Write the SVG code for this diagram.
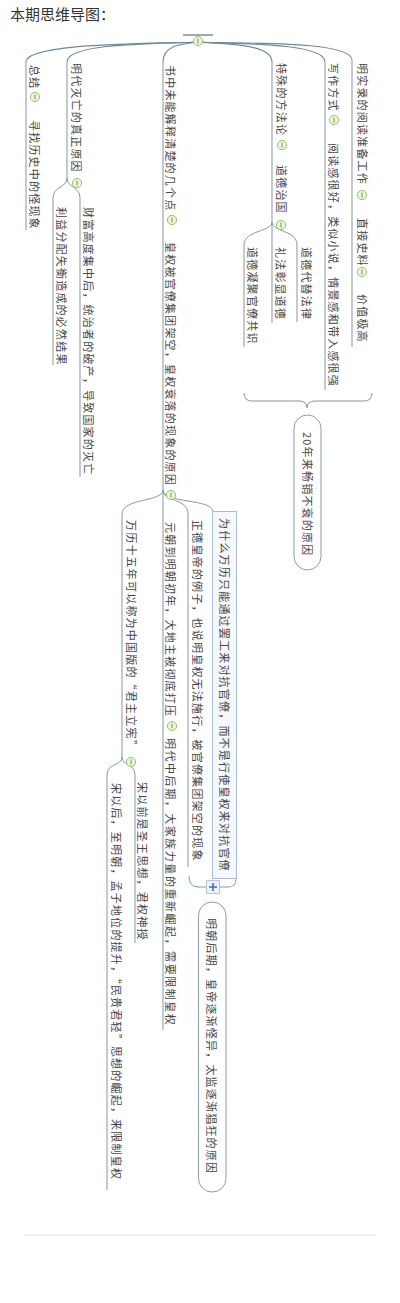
<svg xmlns="http://www.w3.org/2000/svg" width="400" height="1303" viewBox="0 0 400 1303">
<style>
.t{font-family:"Noto Sans CJK SC","Noto Sans",sans-serif;font-size:11px;fill:#474747;letter-spacing:1.2px;dominant-baseline:central}
.q{font-feature-settings:"fwid"}
.ln{stroke:#8797a4;stroke-width:1;fill:none}
.cv{stroke:#6f8a9c;stroke-width:1.1;fill:none}
.pill{fill:#ffffff;stroke:#8c9aa6;stroke-width:1}
.ttl{font-family:"Noto Sans CJK SC","Noto Sans",sans-serif;font-size:15px;fill:#333}
</style>
<defs>
<g id="m"><circle r="4.6" fill="#edf6dc" stroke="#98c36a" stroke-width="1"/><line x1="0" y1="-2.6" x2="0" y2="2.6" stroke="#6e9a48" stroke-width="1"/></g>
</defs>
<rect width="400" height="1303" fill="#ffffff"/>
<text class="ttl" x="10" y="20">本期思维导图：</text>

<g id="connectors">
<path class="cv" d="M198,42 C160,44 26,42 26,62"/>
<path class="cv" d="M198,42 C165,44 67,42 67,62"/>
<path class="cv" d="M198,42 C185,44 163,44 163,62"/>
<path class="cv" d="M198,42 C215,44 272,42 272,62"/>
<path class="cv" d="M198,42 C230,44 325,42 325,62"/>
<path class="cv" d="M198,42 C235,44 352,40 352,60"/>
<path class="ln" d="M67,178 C67,188 53,186 53,198"/>
<path class="ln" d="M67,178 C67,188 80,186 80,198"/>
<path class="ln" d="M163,490 C163,502 122,498 122,514"/>
<path class="ln" d="M163,490 C163,502 188,498 188,514"/>
<path class="ln" d="M163,490 C163,504 213,498 213,512"/>
<path class="ln" d="M122,757 C122,766 107,763 107,775"/>
<path class="ln" d="M122,757 C122,766 135,763 135,775"/>
<path class="ln" d="M272,222 C272,232 244,230 244,245"/>
<path class="ln" d="M272,222 C272,232 297,230 297,245"/>
</g>

<g id="root">
<line x1="183" y1="35" x2="213" y2="35" stroke="#4a5560" stroke-width="1"/>
<use href="#m" x="198" y="41"/>
</g>

<g id="n1">
<line class="ln" x1="352" y1="60" x2="352" y2="347"/>
<text class="t" transform="translate(363,63) rotate(90)">明实录的阅读准备工作</text>
<use href="#m" x="362" y="195"/>
</g>
<g id="n1a">
<text class="t" transform="translate(363,218) rotate(90)">直接史料</text>
<use href="#m" x="362" y="272"/>
</g>
<g id="n1b">
<text class="t" transform="translate(363,294) rotate(90)">价值极高</text>
</g>

<g id="n2">
<line class="ln" x1="325" y1="62" x2="325" y2="390"/>
<text class="t" transform="translate(334,63) rotate(90)">写作方式</text>
<use href="#m" x="334" y="120"/>
</g>
<g id="n2a">
<text class="t" transform="translate(334,143) rotate(90)">阅读感很好，类似小说，情景感和带入感很强</text>
</g>

<g id="n3">
<line class="ln" x1="272" y1="62" x2="272" y2="323"/>
<text class="t" transform="translate(282,63) rotate(90)">特殊的方法论</text>
<use href="#m" x="282" y="145"/>
</g>
<g id="n3a">
<text class="t" transform="translate(282,165) rotate(90)">道德治国</text>
<use href="#m" x="281" y="225"/>
</g>
<g id="n3a1">
<line class="ln" x1="297" y1="245" x2="297" y2="322"/>
<text class="t" transform="translate(307,247) rotate(90)">道德代替法律</text>
</g>
<g id="n3a2">
<text class="t" transform="translate(281,247) rotate(90)">礼法彰显道德</text>
</g>
<g id="n3a3">
<line class="ln" x1="244" y1="245" x2="244" y2="347"/>
<text class="t" transform="translate(253,247) rotate(90)">道德凝聚官僚共识</text>
</g>
<g id="s1">
<path class="ln" d="M244,393 Q244,401 252,401 L299,401 Q307,401 307,408 Q307,401 315,401 L364,401 Q372,401 372,393"/>
<rect class="pill" x="294" y="415" width="27" height="155" rx="13.5"/>
<text class="t" transform="translate(307.5,432) rotate(90)">20年来畅销不衰的原因</text>
</g>

<g id="n4">
<line class="ln" x1="163" y1="62" x2="163" y2="1030"/>
<text class="t" transform="translate(171,65) rotate(90)">书中未能解释清楚的几个点</text>
<use href="#m" x="172" y="220"/>
</g>
<g id="n4a">
<text class="t" transform="translate(171,242) rotate(90)">皇权被官僚集团架空，皇权衰落的现象的原因</text>
<use href="#m" x="171" y="495"/>
</g>
<g id="n4a1">
<rect x="212.5" y="511.5" width="24" height="367" fill="#f5f8fc" stroke="#a9bed6" stroke-width="1"/>
<text class="t" transform="translate(225,518) rotate(90)">为什么万历只能通过罢工来对抗官僚，而不是行使皇权来对抗官僚</text>
</g>
<g id="n4a2">
<line class="ln" x1="188" y1="514" x2="188" y2="867"/>
<text class="t" transform="translate(198,520) rotate(90)">正德皇帝的例子，也说明皇权无法施行，被官僚集团架空的现象</text>
</g>
<g id="n4a3">
<text class="t" transform="translate(171,522) rotate(90)">元朝到明朝初年，大地主被彻底打压</text>
<use href="#m" x="172" y="726"/>
</g>
<g id="n4a3a">
<text class="t" transform="translate(171,738) rotate(90)" textLength="288" lengthAdjust="spacing">明代中后期，大家族力量的重新崛起，需要限制皇权</text>
</g>
<g id="n4a4">
<line class="ln" x1="122" y1="514" x2="122" y2="757"/>
<text class="t" transform="translate(132,520) rotate(90)">万历十五年可以称为中国版的<tspan class="q">“</tspan>君主立宪<tspan class="q">”</tspan></text>
<use href="#m" x="131" y="762"/>
</g>
<g id="n4a4a">
<line class="ln" x1="135" y1="775" x2="135" y2="943"/>
<text class="t" transform="translate(143,782) rotate(90)">宋以前是圣王思想，君权神授</text>
</g>
<g id="n4a4b">
<line class="ln" x1="107" y1="775" x2="107" y2="1190"/>
<text class="t" transform="translate(117,783) rotate(90)">宋以后，至明朝，孟子地位的提升，<tspan class="q">“</tspan>民贵君轻<tspan class="q">”</tspan>思想的崛起，来限制皇权</text>
</g>
<g id="s2">
<path class="ln" d="M189,876 Q189,887 198,887 L206,887"/>
<path class="ln" d="M220,887 L228,887 Q236,887 236,879"/>
<rect x="206.5" y="880.5" width="13" height="13" fill="#eef2f8" stroke="#b9c6d5" stroke-width="1"/>
<path d="M213,883 V891 M209,887 H217" stroke="#3d6fc4" stroke-width="1.6"/>
<rect class="pill" x="198.5" y="902" width="27.5" height="290" rx="13.5"/>
<text class="t" transform="translate(212,918) rotate(90)">明朝后期，皇帝逐渐怪异，太监逐渐猖狂的原因</text>
</g>

<g id="n5">
<line class="ln" x1="67" y1="62" x2="67" y2="178"/>
<text class="t" transform="translate(77,63) rotate(90)">明代灭亡的真正原因</text>
<use href="#m" x="77" y="183"/>
</g>
<g id="n5a">
<line class="ln" x1="80" y1="198" x2="80" y2="477"/>
<text class="t" transform="translate(89,207) rotate(90)">财富高度集中后，统治者的破产，导致国家的灭亡</text>
</g>
<g id="n5b">
<line class="ln" x1="53" y1="198" x2="53" y2="365"/>
<text class="t" transform="translate(62,207) rotate(90)">利益分配失衡造成的必然结果</text>
</g>

<g id="n6">
<line class="ln" x1="26" y1="62" x2="26" y2="230"/>
<text class="t" transform="translate(35,65) rotate(90)">总结</text>
<use href="#m" x="35" y="97"/>
</g>
<g id="n6a">
<text class="t" transform="translate(35,120) rotate(90)">寻找历史中的怪现象</text>
</g>

<line x1="24" y1="1235" x2="376" y2="1235" stroke="#e6e6e6" stroke-width="1"/>
</svg>
